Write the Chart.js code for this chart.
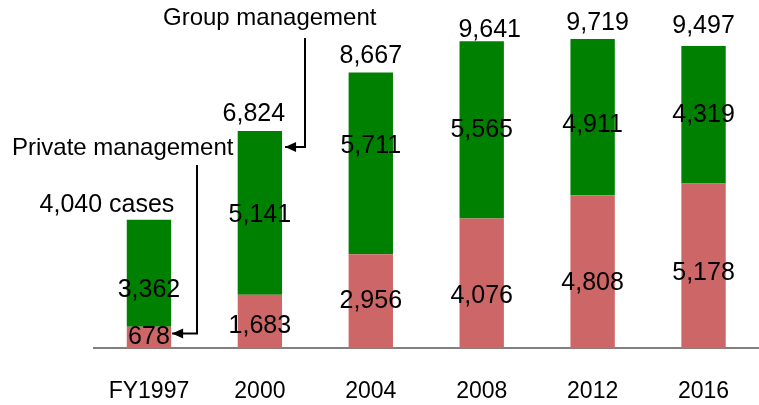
<!DOCTYPE html>
<html>
<head>
<meta charset="utf-8">
<script src="https://cdn.jsdelivr.net/npm/chart.js@4/dist/chart.umd.min.js"></script>
<style>
html,body{margin:0;padding:0;background:#fff;}
#wrap{width:759px;height:405px;position:relative;}
</style>
</head>
<body>
<div id="wrap"><canvas id="c" width="759" height="405"></canvas></div>
<script>
const categories = ["FY1997", "2000", "2004", "2008", "2012", "2016"];
const privateMgmt = [678, 1683, 2956, 4076, 4808, 5178];
const groupMgmt = [3362, 5141, 5711, 5565, 4911, 4319];
const totals = [4040, 6824, 8667, 9641, 9719, 9497];

// label nudges (pixels) relative to segment centre / bar top
const privDy = [0, 5, 0, 13, 11, 7];
const groupDy = [17, 2, -17, 0, 8, 0];
const totalDx = [-42, -6, 0, 8, 5, 0];
const totalDy = [-15, -17, -16, -11, -16, -20];

const FONT = '"Liberation Sans", Arial, Helvetica, sans-serif';
const fmt = v => v.toLocaleString('en-US');

function arrow(ctx, pts) {
  ctx.save();
  ctx.strokeStyle = '#000';
  ctx.fillStyle = '#000';
  ctx.lineWidth = 2;
  ctx.beginPath();
  ctx.moveTo(pts[0][0], pts[0][1]);
  for (let i = 1; i < pts.length; i++) ctx.lineTo(pts[i][0], pts[i][1]);
  ctx.stroke();
  const [tx, ty] = pts[pts.length - 1];
  ctx.beginPath();
  ctx.moveTo(tx, ty);
  ctx.lineTo(tx + 11, ty - 5);
  ctx.lineTo(tx + 11, ty + 5);
  ctx.closePath();
  ctx.fill();
  ctx.restore();
}

const labelPlugin = {
  id: 'labels',
  afterDatasetsDraw(chart) {
    const ctx = chart.ctx;
    const m0 = chart.getDatasetMeta(0).data;
    const m1 = chart.getDatasetMeta(1).data;
    ctx.save();
    ctx.fillStyle = '#000';
    ctx.textAlign = 'center';
    ctx.textBaseline = 'middle';
    ctx.font = '25px ' + FONT;
    m0.forEach((el, i) => {
      ctx.fillText(fmt(privateMgmt[i]), el.x, (el.y + el.base) / 2 + privDy[i]);
    });
    m1.forEach((el, i) => {
      ctx.fillText(fmt(groupMgmt[i]), el.x, (el.y + el.base) / 2 + groupDy[i]);
      const t = fmt(totals[i]) + (i === 0 ? ' cases' : '');
      ctx.fillText(t, el.x + totalDx[i], el.y + totalDy[i]);
    });
    ctx.font = '24px ' + FONT;
    ctx.textAlign = 'left';
    ctx.fillText('Private management', 12, 148);
    ctx.fillText('Group management', 163, 18);
    ctx.restore();

    const b0 = m0[0], g1 = m1[1];
    const r0 = b0.x + b0.width / 2 + 1;
    const yArrow0 = (b0.y + b0.base) / 2 - 4;
    arrow(ctx, [[197, 165], [197, yArrow0], [r0, yArrow0]]);
    const r1 = g1.x + g1.width / 2 + 3;
    const yArrow1 = g1.y + 16;
    arrow(ctx, [[305, 38], [305, yArrow1], [r1, yArrow1]]);
  }
};

new Chart(document.getElementById('c'), {
  type: 'bar',
  data: {
    labels: categories,
    datasets: [
      { label: 'Private management', data: privateMgmt, backgroundColor: '#CD6767', barPercentage: 0.4, categoryPercentage: 1.0 },
      { label: 'Group management', data: groupMgmt, backgroundColor: '#008000', barPercentage: 0.4, categoryPercentage: 1.0 }
    ]
  },
  options: {
    responsive: false,
    animation: false,
    events: [],
    layout: { padding: { left: 93.5, right: 0, top: 0, bottom: -29 } },
    plugins: { legend: { display: false }, tooltip: { enabled: false } },
    scales: {
      x: {
        stacked: true,
        grid: { display: false, drawTicks: false },
        border: { display: true, color: '#808080', width: 2 },
        ticks: { color: '#000', font: { family: FONT, size: 23 }, padding: 29, maxRotation: 0 }
      },
      y: {
        stacked: true,
        display: false,
        min: 0,
        max: 10940
      }
    }
  },
  plugins: [labelPlugin]
});
</script>
</body>
</html>
